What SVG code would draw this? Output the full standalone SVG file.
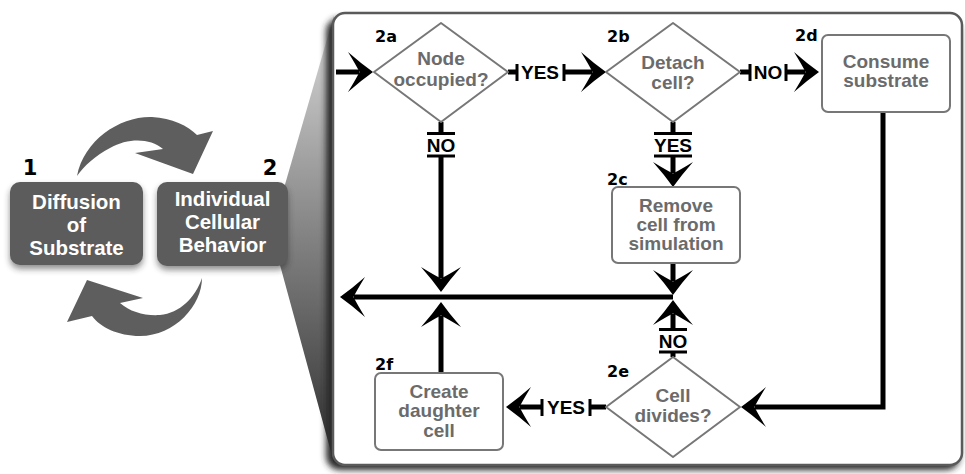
<svg xmlns="http://www.w3.org/2000/svg" width="965" height="474" viewBox="0 0 965 474">
<style>
.lbl{font-family:"Liberation Sans",Arial,sans-serif;font-weight:bold;font-size:19px;fill:#000;text-anchor:middle}
.ntx{font-family:"Liberation Sans",Arial,sans-serif;font-weight:bold;font-size:19px;fill:#6b6b6b;text-anchor:middle}
.btx{font-family:"Liberation Sans",Arial,sans-serif;font-weight:bold;font-size:20.5px;fill:#fff;text-anchor:middle}
.step{font-family:"DejaVu Sans",Verdana,sans-serif;font-weight:bold;font-size:16px;fill:#000}
.num{font-family:"DejaVu Sans",Verdana,sans-serif;font-weight:bold;font-size:21px;fill:#000;text-anchor:middle}
.shape{fill:#fff;stroke:#777;stroke-width:2;stroke-linejoin:round}
.conn{fill:none;stroke:#000;stroke-width:5}
.arr{marker-end:url(#ah)}
.bar{stroke:#000;stroke-width:3}
.big{fill:#5c5c5c}
.swoosh{fill:#5e5e5e}
</style>
<defs>
<marker id="ah" markerUnits="userSpaceOnUse" viewBox="0 0 26 40" markerWidth="26" markerHeight="40" refX="11" refY="20" orient="auto">
<path d="M25,20 Q13,11.5 0,0 Q8,13 11.5,20 Q8,27 0,40 Q13,28.5 25,20 Z" fill="#000"/>
</marker>
<linearGradient id="wedge" gradientUnits="userSpaceOnUse" x1="0" y1="15" x2="0" y2="463">
<stop offset="0" stop-color="#dcdcdc"/>
<stop offset="0.45" stop-color="#8a8a8a"/>
<stop offset="1" stop-color="#2e2e2e"/>
</linearGradient>
<filter id="blur" x="-10%" y="-10%" width="120%" height="120%"><feGaussianBlur stdDeviation="3"/></filter>
</defs>

<g id="wedge-shape">
<polygon points="284,188 334,15 334,463 280,265" fill="url(#wedge)"/>
</g>
<g id="panel">
<rect x="326" y="18" width="634" height="452" rx="14" fill="#2a2a2a" filter="url(#blur)"/>
<rect x="333" y="13" width="629" height="452" rx="12" fill="#fff" stroke="#5a5a5a" stroke-width="2.5"/>
</g>

<g id="cycle-top">
<path class="swoosh" d="M77,176 C84,140 120,116 152,117 C172,118 188,126 197,135 L213,131 L193,174 L135,153 L163,149 C150,138 128,138 110,148 C95,156 84,166 77,176 Z"/>
</g>
<g id="cycle-bottom">
<path class="swoosh" d="M202,278 C202,305 175,336 140,336 C118,336 100,327 92,316 L67,322 L87,280 L143,298 L120,303 C130,312 145,316 160,315 C180,313 195,298 202,278 Z"/>
</g>

<g id="n1">
<rect x="10" y="186" width="133" height="83" rx="10" fill="#222" opacity="0.5" filter="url(#blur)"/>
<rect class="big" x="10" y="182" width="133" height="83" rx="10"/>
<text class="num" x="30" y="175">1</text>
<text class="btx" x="76.5" y="209">Diffusion</text>
<text class="btx" x="76.5" y="232">of</text>
<text class="btx" x="76.5" y="255">Substrate</text>
</g>
<g id="n2">
<rect x="157" y="186" width="131" height="84" rx="10" fill="#222" opacity="0.5" filter="url(#blur)"/>
<rect class="big" x="157" y="182" width="131" height="84" rx="10"/>
<text class="num" x="270" y="175">2</text>
<text class="btx" x="222.5" y="206">Individual</text>
<text class="btx" x="222.5" y="229">Cellular</text>
<text class="btx" x="222.5" y="252">Behavior</text>
</g>

<g id="connectors">
<path class="conn arr" d="M336,72 L359,72"/>
<path class="conn" d="M508,72 L517,72"/>
<line class="bar" x1="517" y1="64" x2="517" y2="81"/>
<text class="lbl" x="540" y="79">YES</text>
<line class="bar" x1="564" y1="64" x2="564" y2="81"/>
<path class="conn arr" d="M564,72 L592,72"/>
<path class="conn" d="M740,72 L750,72"/>
<line class="bar" x1="750" y1="64" x2="750" y2="81"/>
<text class="lbl" x="768" y="79">NO</text>
<line class="bar" x1="786" y1="64" x2="786" y2="81"/>
<path class="conn arr" d="M786,72 L805,72"/>
<path class="conn" d="M441,122 L441,133"/>
<line class="bar" x1="427" y1="133.5" x2="455" y2="133.5"/>
<text class="lbl" x="441" y="152">NO</text>
<line class="bar" x1="427" y1="156" x2="455" y2="156"/>
<path class="conn arr" d="M441,156 L441,278"/>
<path class="conn" d="M673,122 L673,134"/>
<line class="bar" x1="654" y1="133.5" x2="692" y2="133.5"/>
<text class="lbl" x="673" y="152">YES</text>
<line class="bar" x1="654" y1="156" x2="692" y2="156"/>
<path class="conn arr" d="M673,156 L673,173"/>
<path class="conn arr" d="M673,263 L673,281"/>
<path class="conn arr" d="M673,297 L354,297"/>
<path class="conn" d="M673,357 L673,352"/>
<line class="bar" x1="659" y1="352" x2="687" y2="352"/>
<text class="lbl" x="673" y="348">NO</text>
<line class="bar" x1="659" y1="329.5" x2="687" y2="329.5"/>
<path class="conn arr" d="M673,329.5 L673,314"/>
<path class="conn arr" d="M441,373 L441,316"/>
<path class="conn" d="M606,407 L590,407"/>
<line class="bar" x1="590" y1="399" x2="590" y2="416"/>
<text class="lbl" x="566" y="414">YES</text>
<line class="bar" x1="542" y1="399" x2="542" y2="416"/>
<path class="conn arr" d="M542,407 L520,407"/>
<path class="conn arr" d="M883,112 L883,407 L755,407"/>
</g>

<g id="n2a">
<polygon class="shape" points="374,72 441,23 508,72 441,122"/>
<text class="step" x="375" y="42">2a</text>
<text class="ntx" x="441" y="65">Node</text>
<text class="ntx" x="441" y="85.5">occupied?</text>
</g>
<g id="n2b">
<polygon class="shape" points="606,72 673,23 740,72 673,122"/>
<text class="step" x="607" y="42">2b</text>
<text class="ntx" x="673" y="69">Detach</text>
<text class="ntx" x="673" y="89">cell?</text>
</g>
<g id="n2c">
<rect class="shape" x="612" y="187" width="128" height="76" rx="6"/>
<text class="step" x="607" y="185">2c</text>
<text class="ntx" x="676" y="212">Remove</text>
<text class="ntx" x="676" y="231">cell from</text>
<text class="ntx" x="676" y="250">simulation</text>
</g>
<g id="n2d">
<rect class="shape" x="822" y="35" width="128" height="77" rx="6"/>
<text class="step" x="795" y="41">2d</text>
<text class="ntx" x="886" y="68">Consume</text>
<text class="ntx" x="886" y="87">substrate</text>
</g>
<g id="n2e">
<polygon class="shape" points="606,407 673,357 740,407 673,457"/>
<text class="step" x="607" y="377">2e</text>
<text class="ntx" x="673" y="401.5">Cell</text>
<text class="ntx" x="673" y="421.5">divides?</text>
</g>
<g id="n2f">
<rect class="shape" x="375" y="373" width="128" height="77" rx="6"/>
<text class="step" x="375" y="370">2f</text>
<text class="ntx" x="439" y="398">Create</text>
<text class="ntx" x="439" y="417">daughter</text>
<text class="ntx" x="439" y="437">cell</text>
</g>
</svg>
